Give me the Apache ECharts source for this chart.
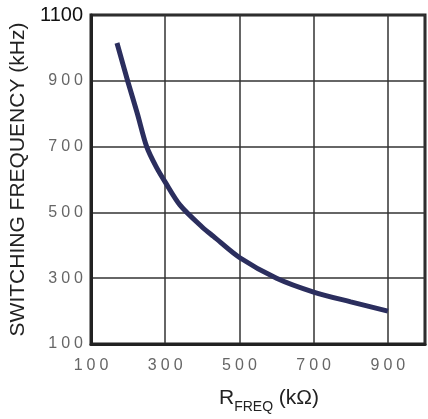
<!DOCTYPE html>
<html>
<head>
<meta charset="utf-8">
<script src="https://cdn.jsdelivr.net/npm/echarts@6/dist/echarts.min.js"></script>
<style>
html,body{margin:0;padding:0;background:#fff;}
#c{width:428px;height:419px;}
</style>
</head>
<body>
<div id="c"></div>
<script>
var rFreq = [170, 200, 225, 250, 275, 300, 340, 400, 430, 500, 600, 700, 800, 900];
var fSw   = [1015, 895, 800, 700, 640, 592, 522, 455, 427, 363, 300, 258, 228, 200];
var xTicks = [100, 300, 500, 700, 900];
var yTicks = [100, 300, 500, 700, 900, 1100];

var data = rFreq.map(function (x, i) { return [x, fSw[i]]; });
function spaced(v) { return String(v).split('').join('\u2005'); }

var chart = echarts.init(document.getElementById('c'));
chart.setOption({
  animation: false,
  backgroundColor: '#fff',
  grid: { left: 91, right: 3, top: 15, bottom: 69, show: true, borderColor: '#222', borderWidth: 3, backgroundColor: 'transparent' },
  xAxis: {
    type: 'value', min: 100, max: 1000, interval: 200,
    name: '{r|R}{s|FREQ}{r| (kΩ)}',
    nameLocation: 'middle', nameGap: 44,
    nameTextStyle: {
      padding: [0, 0, 0, 22],
      rich: {
        r: { fontFamily: 'Liberation Sans', fontSize: 21, color: '#222', verticalAlign: 'top', lineHeight: 26 },
        s: { fontFamily: 'Liberation Sans', fontSize: 14, color: '#222', verticalAlign: 'bottom', lineHeight: 14, padding: [10, 0, 0, 0] }
      }
    },
    axisLine: { show: true, lineStyle: { color: '#222', width: 3 } },
    axisTick: { show: false },
    splitLine: { show: true, lineStyle: { color: '#333', width: 1.5 } },
    axisLabel: {
      margin: 14, color: '#666', fontFamily: 'Liberation Sans', fontSize: 16, showMaxLabel: false,
      formatter: function (v) { return xTicks.indexOf(v) >= 0 ? spaced(v) : ''; }
    }
  },
  yAxis: {
    type: 'value', min: 100, max: 1100, interval: 200,
    name: 'SWITCHING FREQUENCY (kHz)',
    nameLocation: 'middle', nameGap: 52, nameRotate: 90,
    nameTextStyle: { fontFamily: 'Liberation Sans', fontSize: 21, color: '#222' },
    axisLine: { show: true, lineStyle: { color: '#222', width: 3 } },
    axisTick: { show: false },
    splitLine: { show: true, lineStyle: { color: '#333', width: 1.5 } },
    axisLabel: {
      margin: 8, color: '#666', fontFamily: 'Liberation Sans', fontSize: 16,
      formatter: function (v) {
        if (v === 1100) return '{b|1100}';
        return yTicks.indexOf(v) >= 0 ? spaced(v) : '';
      },
      rich: { b: { color: '#111', fontFamily: 'Liberation Sans', fontSize: 20 } }
    }
  },
  series: [{
    type: 'line', data: data, smooth: 0.3, showSymbol: false,
    lineStyle: { color: '#2b2e5e', width: 5, cap: 'butt' }
  }]
});
</script>
</body>
</html>
